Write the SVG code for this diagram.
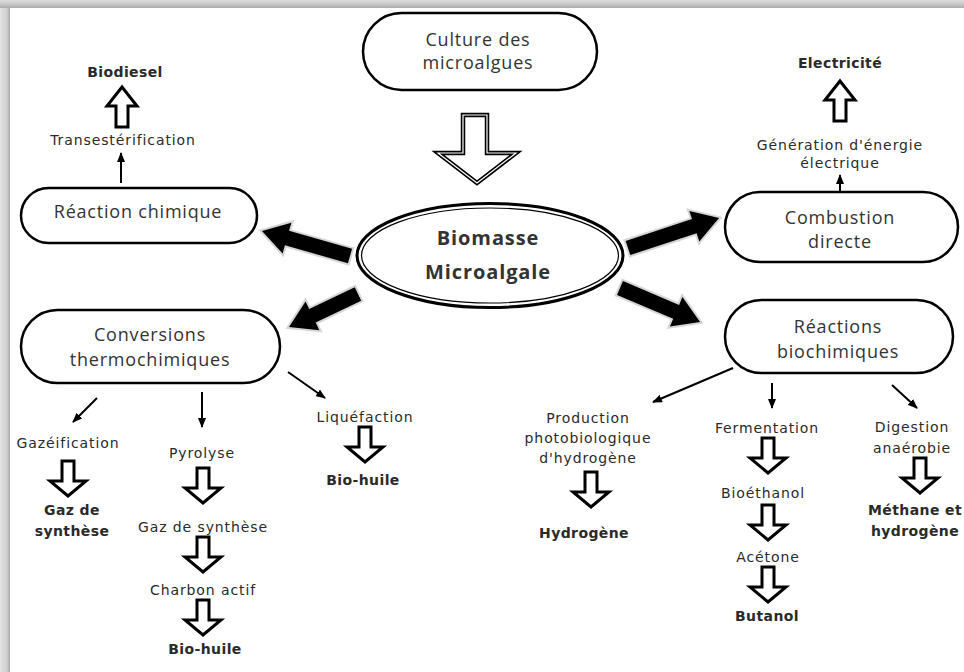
<svg xmlns="http://www.w3.org/2000/svg" width="964" height="672" viewBox="0 0 964 672">
<defs>
<linearGradient id="gl" x1="0" y1="0" x2="1" y2="0"><stop offset="0" stop-color="#e4e4e4"/><stop offset="0.7" stop-color="#cfcfcf"/><stop offset="1" stop-color="#a4a4a4"/></linearGradient>
<linearGradient id="gt" x1="0" y1="0" x2="0" y2="1"><stop offset="0" stop-color="#dcdcdc"/><stop offset="0.6" stop-color="#c4c4c4"/><stop offset="1" stop-color="#a8a8a8"/></linearGradient>
<marker id="ah" viewBox="0 0 10 8" refX="9" refY="4" markerWidth="10" markerHeight="8" markerUnits="userSpaceOnUse" orient="auto"><path d="M0,0 L10,4 L0,8 Z" fill="#000"/></marker>
<path id="hd" d="M-6,0 L6,0 L6,20 L18,20 L0,35 L-18,20 L-6,20 Z"/>
<path id="hu" d="M0,0 L15,19 L6,19 L6,40 L-6,40 L-6,19 L-15,19 Z"/>
</defs>
<style>
.node{fill:#fff;stroke:#000;stroke-width:2.5}
.nt{font-family:"Open Sans","DejaVu Sans",sans-serif;font-size:18px;letter-spacing:0.8px;fill:#333;text-anchor:middle}
.bt{font-family:"Open Sans","DejaVu Sans",sans-serif;font-size:20px;font-weight:bold;letter-spacing:0.9px;fill:#333;text-anchor:middle}
.sl{font-family:"DejaVu Sans",Verdana,sans-serif;font-size:14px;letter-spacing:0.9px;fill:#2a2a2a;text-anchor:middle}
.sb{font-family:"DejaVu Sans",Verdana,sans-serif;font-size:14px;font-weight:bold;letter-spacing:0.4px;fill:#2a2a2a;text-anchor:middle}
.thin{stroke:#000;stroke-width:2;fill:none;marker-end:url(#ah)}
.hol{fill:#fff;stroke:#000;stroke-width:3;stroke-linejoin:miter}
.thick{fill:#000;stroke:#d6d6d6;stroke-width:4;paint-order:stroke;stroke-linejoin:miter}
</style>
<rect x="0" y="0" width="964" height="672" fill="#fff"/>
<rect x="0" y="0" width="10" height="672" fill="url(#gl)"/>
<rect x="0" y="0" width="964" height="8" fill="url(#gt)"/>

<g id="connectors">
<path d="M463,115 L487,115 L487,153 L516,153 L477,183 L438,153 L463,153 Z" fill="#fff" stroke="#000" stroke-width="4.5"/>
<path d="M463,115 L487,115 L487,153 L516,153 L477,183 L438,153 L463,153 Z" fill="none" stroke="#fff" stroke-width="1.2"/>
<path class="thick" transform="translate(350,256) rotate(195.9)" d="M0,-7.5 L65.5,-7.5 L65.5,-16 L91.5,0 L65.5,16 L65.5,7.5 L0,7.5 Z"/>
<path class="thick" transform="translate(628,248) rotate(-18.2)" d="M0,-7.5 L69.8,-7.5 L69.8,-16 L95.8,0 L69.8,16 L69.8,7.5 L0,7.5 Z"/>
<path class="thick" transform="translate(358,294) rotate(154.4)" d="M0,-7.5 L50.5,-7.5 L50.5,-16 L76.5,0 L50.5,16 L50.5,7.5 L0,7.5 Z"/>
<path class="thick" transform="translate(620,288) rotate(23)" d="M0,-7.5 L61,-7.5 L61,-16 L87,0 L61,16 L61,7.5 L0,7.5 Z"/>
<line class="thin" x1="121" y1="183" x2="121" y2="153"/>
<line class="thin" x1="840" y1="192" x2="840" y2="175"/>
<line class="thin" x1="97" y1="398" x2="73" y2="422"/>
<line class="thin" x1="202" y1="392" x2="202" y2="427"/>
<line class="thin" x1="288" y1="372" x2="325" y2="398"/>
<line class="thin" x1="733" y1="368" x2="653" y2="402"/>
<line class="thin" x1="772" y1="383" x2="772" y2="408"/>
<line class="thin" x1="892" y1="385" x2="917" y2="408"/>
<use href="#hu" class="hol" x="122" y="87"/>
<use href="#hu" class="hol" x="840" y="81"/>
<use href="#hd" class="hol" x="68" y="461"/>
<use href="#hd" class="hol" x="203" y="468"/>
<use href="#hd" class="hol" x="203" y="537"/>
<use href="#hd" class="hol" x="203" y="600"/>
<use href="#hd" class="hol" x="365" y="427"/>
<use href="#hd" class="hol" x="591" y="472"/>
<use href="#hd" class="hol" x="768" y="438"/>
<use href="#hd" class="hol" x="768" y="505"/>
<use href="#hd" class="hol" x="768" y="567"/>
<use href="#hd" class="hol" x="920" y="458"/>
</g>

<g id="culture">
<rect class="node" x="363" y="13" width="234" height="77" rx="38.5"/>
<text class="nt" x="478" y="46">Culture des</text>
<text class="nt" x="478" y="69">microalgues</text>
</g>
<g id="biomasse">
<ellipse cx="490" cy="255.5" rx="133" ry="52" fill="#fff" stroke="#000" stroke-width="3"/>
<ellipse cx="490" cy="255.5" rx="128.5" ry="47.5" fill="none" stroke="#000" stroke-width="1.2"/>
<text class="bt" x="488" y="245">Biomasse</text>
<text class="bt" x="488" y="279">Microalgale</text>
</g>
<g id="reaction-chimique">
<rect class="node" x="21" y="188" width="236" height="55" rx="27.5"/>
<text class="nt" x="138" y="218">Réaction chimique</text>
</g>
<g id="transesterification"><text class="sl" x="123" y="145">Transestérification</text></g>
<g id="biodiesel"><text class="sb" x="125" y="77">Biodiesel</text></g>
<g id="combustion">
<rect class="node" x="725" y="192" width="233" height="70" rx="35"/>
<text class="nt" x="840" y="224">Combustion</text>
<text class="nt" x="840" y="248">directe</text>
</g>
<g id="generation">
<text class="sl" x="840" y="150">Génération d'énergie</text>
<text class="sl" x="840" y="168">électrique</text>
</g>
<g id="electricite"><text class="sb" x="840" y="68">Electricité</text></g>
<g id="conversions">
<rect class="node" x="21" y="310" width="259" height="73" rx="36.5"/>
<text class="nt" x="150" y="341">Conversions</text>
<text class="nt" x="150" y="366">thermochimiques</text>
</g>
<g id="gazeification"><text class="sl" x="68" y="448">Gazéification</text></g>
<g id="gaz-synthese-1"><text class="sb" x="72" y="515">Gaz de</text><text class="sb" x="72" y="536">synthèse</text></g>
<g id="pyrolyse"><text class="sl" x="202" y="458">Pyrolyse</text></g>
<g id="gaz-synthese-2"><text class="sl" x="203" y="532">Gaz de synthèse</text></g>
<g id="charbon"><text class="sl" x="203" y="595">Charbon actif</text></g>
<g id="bio-huile-2"><text class="sb" x="205" y="654">Bio-huile</text></g>
<g id="liquefaction"><text class="sl" x="365" y="422">Liquéfaction</text></g>
<g id="bio-huile-1"><text class="sb" x="363" y="485">Bio-huile</text></g>
<g id="reactions-bio">
<rect class="node" x="725" y="300" width="228" height="73" rx="36.5"/>
<text class="nt" x="838" y="333">Réactions</text>
<text class="nt" x="838" y="358">biochimiques</text>
</g>
<g id="production">
<text class="sl" x="588" y="423">Production</text>
<text class="sl" x="588" y="443">photobiologique</text>
<text class="sl" x="588" y="463">d'hydrogène</text>
</g>
<g id="hydrogene"><text class="sb" x="584" y="538">Hydrogène</text></g>
<g id="fermentation"><text class="sl" x="767" y="433">Fermentation</text></g>
<g id="bioethanol"><text class="sl" x="763" y="498">Bioéthanol</text></g>
<g id="acetone"><text class="sl" x="768" y="562">Acétone</text></g>
<g id="butanol"><text class="sb" x="767" y="621">Butanol</text></g>
<g id="digestion">
<text class="sl" x="912" y="432">Digestion</text>
<text class="sl" x="912" y="453">anaérobie</text>
</g>
<g id="methane">
<text class="sb" x="868" y="515" style="text-anchor:start">Méthane et</text>
<text class="sb" x="915" y="536">hydrogène</text>
</g>
</svg>
